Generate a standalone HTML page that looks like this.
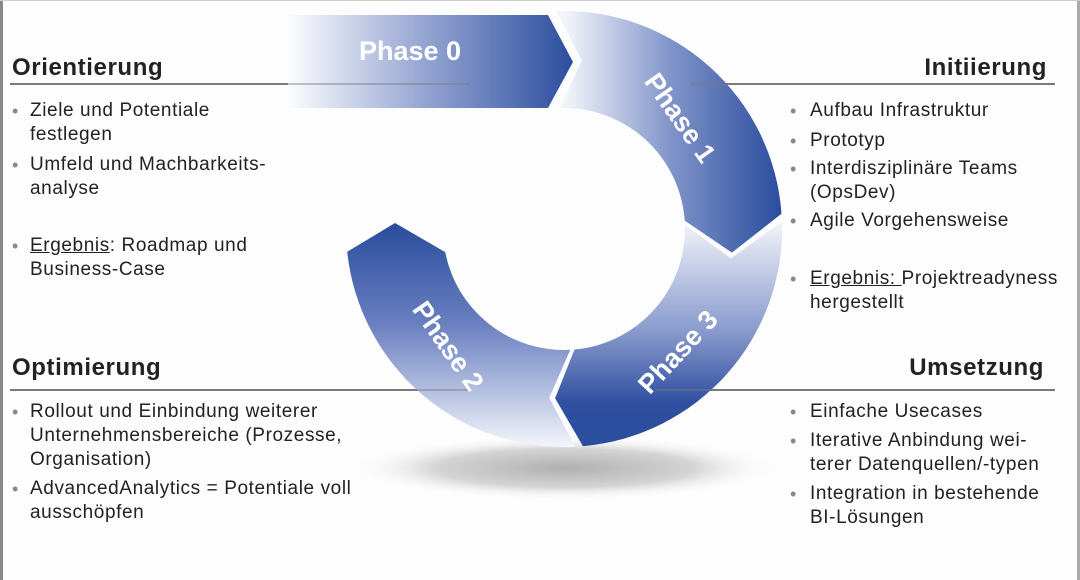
<!DOCTYPE html>
<html><head><meta charset="utf-8"><style>
html,body{margin:0;padding:0;background:#fff;}
#c{position:relative;width:1080px;height:580px;overflow:hidden;background:#fdfdfd;font-family:"Liberation Sans",Arial,sans-serif;color:#222;}
.t{position:absolute;font-size:19px;letter-spacing:0.6px;line-height:24px;white-space:nowrap;}
.h{position:absolute;font-size:24px;letter-spacing:0.6px;font-weight:bold;color:#222;white-space:nowrap;}
.b{position:absolute;font-size:18px;color:#888;line-height:24px;}
svg{position:absolute;left:0;top:0;}
</style></head><body><div id="c">
<svg width="1080" height="580">
<defs>
<linearGradient id="g0" gradientUnits="userSpaceOnUse" x1="288" y1="0" x2="575" y2="0"><stop offset="0" stop-color="#fbfcfe"/><stop offset="0.45" stop-color="#9aa9d4"/><stop offset="1" stop-color="#2a4d9e"/></linearGradient>
<linearGradient id="g1" gradientUnits="userSpaceOnUse" x1="565" y1="0" x2="782" y2="0"><stop offset="0" stop-color="#f3f5fb"/><stop offset="0.5" stop-color="#7e92c8"/><stop offset="1" stop-color="#2a4d9e"/></linearGradient>
<linearGradient id="g3" gradientUnits="userSpaceOnUse" x1="0" y1="222" x2="0" y2="447"><stop offset="0" stop-color="#f2f4fa"/><stop offset="0.5" stop-color="#8597cb"/><stop offset="0.8" stop-color="#3050a0"/><stop offset="1" stop-color="#2a4d9e"/></linearGradient>
<linearGradient id="g2" gradientUnits="userSpaceOnUse" x1="0" y1="225" x2="0" y2="447"><stop offset="0" stop-color="#2a4d9e"/><stop offset="0.45" stop-color="#6a80c0"/><stop offset="1" stop-color="#f3f5fb"/></linearGradient>
<radialGradient id="sh" cx="0.5" cy="0.5" r="0.5"><stop offset="0" stop-color="#b0b0b0"/><stop offset="0.6" stop-color="#d4d4d4"/><stop offset="1" stop-color="#fdfdfd" stop-opacity="0"/></radialGradient>
</defs>
<ellipse cx="565" cy="468" rx="215" ry="32" fill="url(#sh)"/>
<line x1="10" y1="84" x2="470" y2="84" stroke="#7a7a7a" stroke-width="2"/>
<line x1="690" y1="84" x2="1055" y2="84" stroke="#7a7a7a" stroke-width="2"/>
<line x1="10" y1="390" x2="470" y2="390" stroke="#7a7a7a" stroke-width="2"/>
<line x1="655" y1="390" x2="1055" y2="390" stroke="#7a7a7a" stroke-width="2"/>
<path d="M288,15 L548,15 L573,62 L548,108 L288,108 Z" fill="url(#g0)"/>
<path d="M556.4,11.1 A218 218 0 0 1 781.5,213.8 L731.9,252.6 L684.7,220.6 A121 121 0 0 0 559.8,108.1 L581.7,60.4 Z" fill="url(#g1)"/>
<path d="M781.9,221.4 A218 218 0 0 1 583,446.2 L555.1,398.3 L574.5,349.5 A121 121 0 0 0 684.9,224.8 L730.9,258.4 Z" fill="url(#g3)"/>
<path d="M575.4,446.7 A218 218 0 0 1 347.2,251.8 L395,223 L445.2,252.1 A121 121 0 0 0 570.3,349.8 L549.2,397.9 Z" fill="url(#g2)"/>
<g stroke="#7a7a7a" stroke-opacity="0.45" stroke-width="2">
<line x1="280" y1="84" x2="470" y2="84"/>
<line x1="690" y1="84" x2="790" y2="84"/>
<line x1="340" y1="390" x2="470" y2="390"/>
<line x1="655" y1="390" x2="790" y2="390"/>
</g>
<g font-family="Liberation Sans, Arial, sans-serif" font-weight="bold" font-size="27" fill="#fff" text-anchor="middle">
<text x="410" y="60">Phase 0</text>
<text transform="translate(680,118) rotate(55)" y="9">Phase 1</text>
<text transform="translate(678,352) rotate(-47)" y="9">Phase 3</text>
<text transform="translate(448,346) rotate(55)" y="9">Phase 2</text>
</g>
<rect x="0" y="0" width="3" height="580" fill="#888"/>
<rect x="1077" y="0" width="3" height="580" fill="#aaa"/>
<rect x="0" y="0" width="1080" height="1" fill="#ccc"/>
</svg>

<div class="h" style="left:12px;top:54px">Orientierung</div>
<div class="b" style="left:12px;top:99px">•</div><div class="t" style="left:30px;top:99px">Ziele und Potentiale<br>festlegen</div>
<div class="b" style="left:12px;top:153px">•</div><div class="t" style="left:30px;top:153px">Umfeld und Machbarkeits-<br>analyse</div>
<div class="b" style="left:12px;top:234px">•</div><div class="t" style="left:30px;top:234px"><u>Ergebnis</u>: Roadmap und<br>Business-Case</div>

<div class="h" style="right:33px;top:54px">Initiierung</div>
<div class="b" style="left:790px;top:99px">•</div><div class="t" style="left:810px;top:99px">Aufbau Infrastruktur</div>
<div class="b" style="left:790px;top:129px">•</div><div class="t" style="left:810px;top:129px">Prototyp</div>
<div class="b" style="left:790px;top:157px">•</div><div class="t" style="left:810px;top:157px">Interdisziplinäre Teams<br>(OpsDev)</div>
<div class="b" style="left:790px;top:209px">•</div><div class="t" style="left:810px;top:209px">Agile Vorgehensweise</div>
<div class="b" style="left:790px;top:267px">•</div><div class="t" style="left:810px;top:267px"><u>Ergebnis: </u>Projektreadyness<br>hergestellt</div>

<div class="h" style="left:12px;top:354px">Optimierung</div>
<div class="b" style="left:12px;top:400px">•</div><div class="t" style="left:30px;top:400px">Rollout und Einbindung weiterer<br>Unternehmensbereiche (Prozesse,<br>Organisation)</div>
<div class="b" style="left:12px;top:477px">•</div><div class="t" style="left:30px;top:477px">AdvancedAnalytics = Potentiale voll<br>ausschöpfen</div>

<div class="h" style="right:36px;top:354px">Umsetzung</div>
<div class="b" style="left:790px;top:400px">•</div><div class="t" style="left:810px;top:400px">Einfache Usecases</div>
<div class="b" style="left:790px;top:429px">•</div><div class="t" style="left:810px;top:429px">Iterative Anbindung wei-<br>terer Datenquellen/-typen</div>
<div class="b" style="left:790px;top:482px">•</div><div class="t" style="left:810px;top:482px">Integration in bestehende<br>BI-Lösungen</div>
</div></body></html>
